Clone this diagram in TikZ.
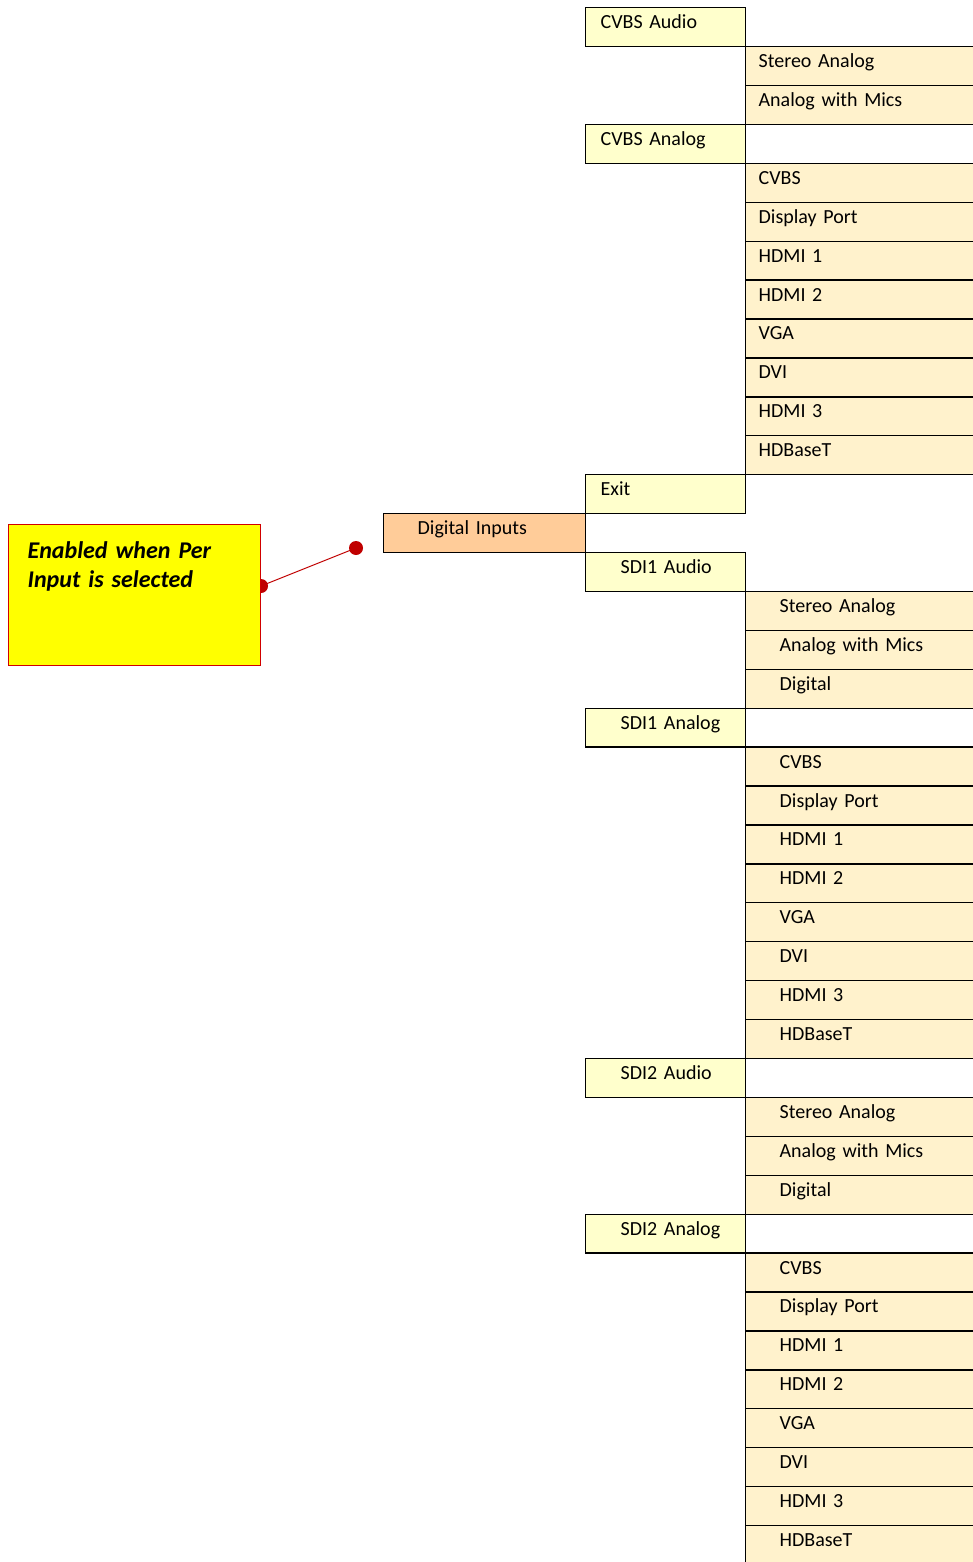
\documentclass[tikz,border=0pt]{standalone}
\usepackage{fontspec}
\setmainfont{Carlito}
\definecolor{lonecol}{HTML}{FFCC99}
\definecolor{ltwocol}{HTML}{FFFFCC}
\definecolor{lthreecol}{HTML}{FFF2CC}
\definecolor{notecol}{HTML}{FFFF00}
\definecolor{noteborder}{HTML}{D00000}
\definecolor{dotcol}{HTML}{C00000}
\tikzset{
  menubox/.style={draw=black, line width=1.3pt, inner xsep=0pt, inner ysep=0pt,
    minimum height=38.92pt, text height=14pt, text depth=11pt, align=left,
    font=\fontsize{20}{24}\selectfont, anchor=north west},
  lone/.style={menubox, fill=lonecol, text width=202pt},
  ltwo/.style={menubox, fill=ltwocol, text width=160pt},
  lthree/.style={menubox, fill=lthreecol, text width=232pt},
  notebox/.style={draw=noteborder, line width=1.3pt, fill=notecol, anchor=north west,
    minimum width=252pt, minimum height=141pt, inner xsep=19pt, inner ysep=0pt,
    text width=214pt, align=left, text height=34pt, text depth=107pt,
    font=\fontsize{24}{29}\selectfont\bfseries\itshape},
  reddot/.style={circle, fill=dotcol, inner sep=0pt, minimum size=14pt},
  redline/.style={draw=dotcol, line width=1pt}
}
\begin{document}
\begin{tikzpicture}[x=1pt, y=-1pt]
\useasboundingbox (0,0) rectangle (972,1562);
\foreach \i/\x/\lvl/\ind/\t in {
  0/585/ltwo/15/CVBS Audio,
  1/745/lthree/13/Stereo Analog,
  2/745/lthree/13/Analog with Mics,
  3/585/ltwo/15/CVBS Analog,
  4/745/lthree/13/CVBS,
  5/745/lthree/13/Display Port,
  6/745/lthree/13/HDMI 1,
  7/745/lthree/13/HDMI 2,
  8/745/lthree/13/VGA,
  9/745/lthree/13/DVI,
  10/745/lthree/13/HDMI 3,
  11/745/lthree/13/HDBaseT,
  12/585/ltwo/15/Exit,
  13/383/lone/34/Digital Inputs,
  14/585/ltwo/35/SDI1 Audio,
  15/745/lthree/34/Stereo Analog,
  16/745/lthree/34/Analog with Mics,
  17/745/lthree/34/Digital,
  18/585/ltwo/35/SDI1 Analog,
  19/745/lthree/34/CVBS,
  20/745/lthree/34/Display Port,
  21/745/lthree/34/HDMI 1,
  22/745/lthree/34/HDMI 2,
  23/745/lthree/34/VGA,
  24/745/lthree/34/DVI,
  25/745/lthree/34/HDMI 3,
  26/745/lthree/34/HDBaseT,
  27/585/ltwo/35/SDI2 Audio,
  28/745/lthree/34/Stereo Analog,
  29/745/lthree/34/Analog with Mics,
  30/745/lthree/34/Digital,
  31/585/ltwo/35/SDI2 Analog,
  32/745/lthree/34/CVBS,
  33/745/lthree/34/Display Port,
  34/745/lthree/34/HDMI 1,
  35/745/lthree/34/HDMI 2,
  36/745/lthree/34/VGA,
  37/745/lthree/34/DVI,
  38/745/lthree/34/HDMI 3,
  39/745/lthree/34/HDBaseT}
{
  \node[\lvl] (r\i) at (\x, {7+38.92*\i}) {\hspace*{\ind pt}\t};
}
% callout
\node[reddot] (dotb) at (356,548) {};
\node[reddot] (dota) at (261,586) {};
\draw[redline] (dota.center) -- (dotb.center);
\node[notebox] (note) at (8,524) {Enabled when Per\\Input is selected};
\end{tikzpicture}
\end{document}
